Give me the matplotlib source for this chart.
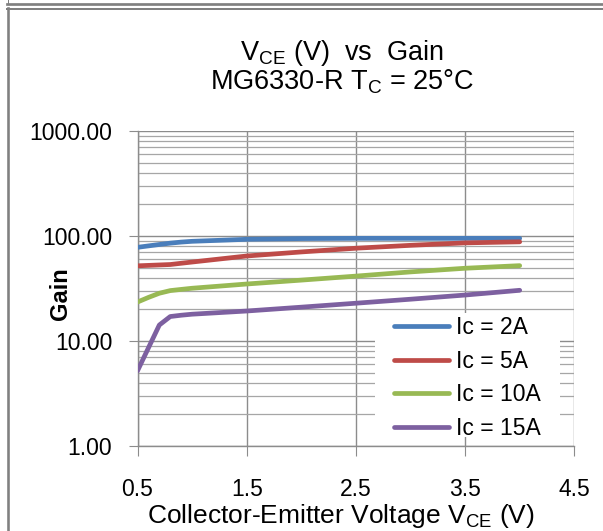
import matplotlib
matplotlib.use("Agg")
import matplotlib.pyplot as plt
from matplotlib.ticker import LogLocator, NullFormatter, FixedLocator
from matplotlib.lines import Line2D
from matplotlib.patches import Rectangle

plt.rcParams['font.family'] = ['Liberation Sans', 'DejaVu Sans']

# ---- data ----
vce = [0.5, 0.6, 0.7, 0.8, 0.9, 1.0, 1.5, 2.0, 2.5, 3.0, 3.5, 4.0]
gain_2a = [78, 80.5, 83, 85.5, 87.5, 89, 93, 94.5, 95, 95, 95, 95]
gain_5a = [52, 52.5, 53, 53.5, 55, 56.5, 64.5, 70.5, 76.5, 81.5, 86, 88]
gain_10a = [23.5, 26, 28.5, 30.2, 31, 31.8, 34.9, 38, 41.5, 45.5, 49.3, 52.2]
gain_15a = [5.2, 8.6, 14.2, 17.1, 17.6, 18.0, 19.3, 21.0, 22.9, 25.0, 27.4, 30.4]
series_labels = ["Ic = 2A", "Ic = 5A", "Ic = 10A", "Ic = 15A"]
series_colors = ["#4A7EBB", "#BE4B48", "#98B954", "#7D60A0"]
x_ticks = [0.5, 1.5, 2.5, 3.5, 4.5]
x_tick_labels = ["0.5", "1.5", "2.5", "3.5", "4.5"]
y_ticks = [1, 10, 100, 1000]
y_tick_labels = ["1.00", "10.00", "100.00", "1000.00"]

W, H = 603, 531
fig = plt.figure(figsize=(W / 100, H / 100), dpi=100)

def fx(px):
    return px / W

def fy(py):
    return 1 - py / H

# axes placement (pixel coordinates from reference)
left, right, top, bottom = 137.5, 574.3, 131, 446
ax = fig.add_axes([fx(left), fy(bottom), (right - left) / W, (bottom - top) / H])

grid_major = "#8C8C8C"
grid_minor = "#A6A6A6"

ax.set_yscale("log")
ax.set_xlim(0.5, 4.5)
ax.set_ylim(1, 1000)

for y, lab, c in zip([gain_2a, gain_5a, gain_10a, gain_15a], series_labels, series_colors):
    ax.plot(vce, y, color=c, lw=3.4, label=lab, solid_capstyle="round", zorder=3)

ax.xaxis.set_major_locator(FixedLocator(x_ticks))
ax.set_xticklabels(x_tick_labels)
ax.yaxis.set_major_locator(FixedLocator(y_ticks))
ax.set_yticklabels(y_tick_labels)
ax.yaxis.set_minor_locator(LogLocator(base=10, subs=range(2, 10)))
ax.yaxis.set_minor_formatter(NullFormatter())

ax.grid(True, which="major", axis="both", color=grid_major, lw=1.0, zorder=0)
ax.grid(True, which="minor", axis="y", color=grid_minor, lw=0.9, zorder=0)
ax.set_axisbelow(True)

for s in ["top", "right"]:
    ax.spines[s].set_visible(False)
for s in ["left", "bottom"]:
    ax.spines[s].set_color(grid_major)
    ax.spines[s].set_linewidth(1.0)

ax.tick_params(axis="y", which="major", direction="out", length=6.2, width=0.8,
               color=grid_major, labelsize=16.5, pad=12, labelcolor="black")
ax.tick_params(axis="y", which="minor", length=0)
ax.tick_params(axis="x", which="major", direction="out", length=7, width=0.8,
               color=grid_major, labelsize=16.5, pad=16, labelcolor="black")

# white legend background (hides gridlines like the reference)
ax.add_patch(Rectangle((fx(375), fy(437)), fx(560) - fx(375), fy(313) - fy(437),
                       transform=fig.transFigure, facecolor="white", edgecolor="none",
                       zorder=1))

leg = ax.legend(loc="upper left", bbox_to_anchor=(fx(394), fy(316)),
                bbox_transform=fig.transFigure, fontsize=16.5, frameon=False,
                handlelength=2.4, handletextpad=0.3, labelspacing=0.46,
                borderpad=0, borderaxespad=0)
leg.set_zorder(4)
for h in leg.get_lines():
    h.set_linewidth(3.4)
    h.set_solid_capstyle("round")

# titles
cx = fx(342)
fig.text(cx, fy(60), r"V$_{\mathregular{CE}}$ (V)  vs  Gain", ha="center", va="baseline", fontsize=19.5)
fig.text(cx, fy(89), r"MG6330-R T$_{\mathregular{C}}$ = 25°C", ha="center", va="baseline", fontsize=19.5)

# axis labels
fig.text(fx(67), fy(294), "Gain", rotation=90, rotation_mode="anchor",
         ha="center", va="baseline", fontsize=17, fontweight="bold")
fig.text(fx(341), fy(523), r"Collector-Emitter Voltage V$_{\mathregular{CE}}$ (V)",
         ha="center", va="baseline", fontsize=19)

# chart border lines
border = "#808080"
fig.add_artist(Line2D([fx(6.5), 1], [fy(4.3), fy(4.3)], color=border, lw=2.7 * 0.72, transform=fig.transFigure))
fig.add_artist(Line2D([fx(6.5), 1], [fy(9.0), fy(9.0)], color=border, lw=2.0 * 0.72, transform=fig.transFigure))
fig.add_artist(Line2D([fx(8.0), fx(8.0)], [fy(8.0), 0], color=border, lw=2.6 * 0.72, transform=fig.transFigure))
fig.add_artist(Line2D([fx(7.5), fx(7.5)], [1, fy(3.0)], color=border, lw=1.0 * 0.72, transform=fig.transFigure))

fig.savefig("out.png", dpi=100, facecolor="white")
